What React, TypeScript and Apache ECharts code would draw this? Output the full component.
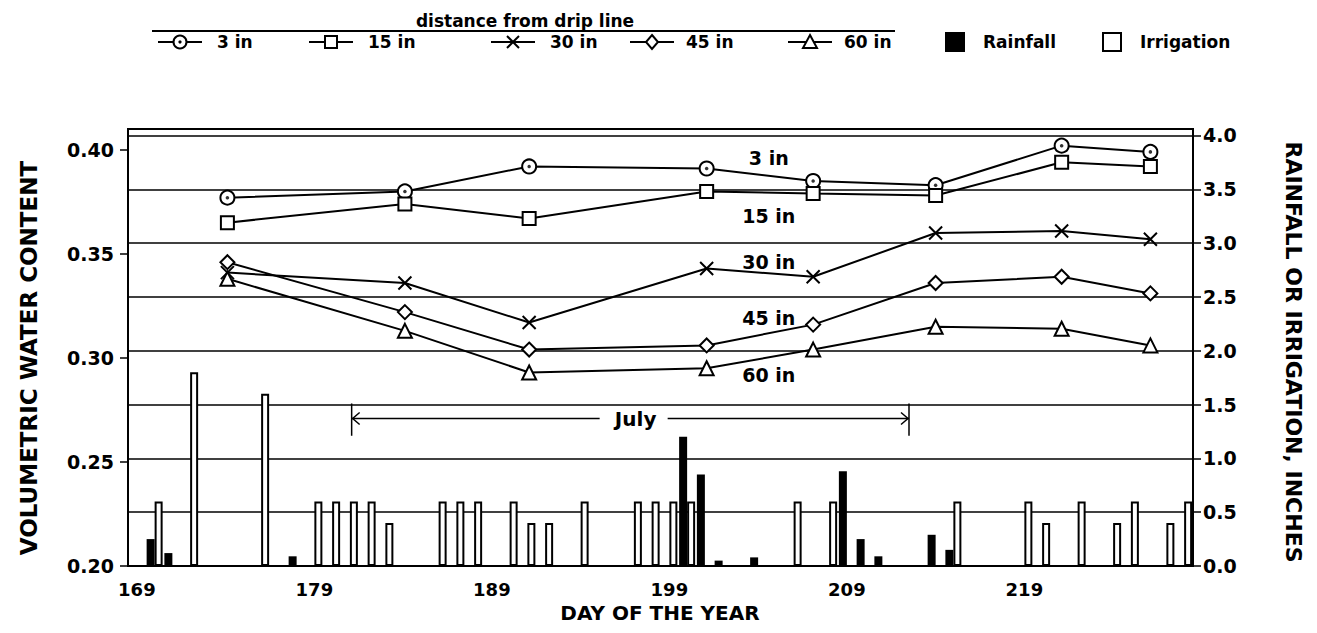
import React, { useEffect, useRef } from "react";
import * as echarts from "echarts";

// ---------- data ----------
const dayCategories = [
  "169","170","171","172","173","174","175","176","177","178",
  "179","180","181","182","183","184","185","186","187","188",
  "189","190","191","192","193","194","195","196","197","198",
  "199","200","201","202","203","204","205","206","207","208",
  "209","210","211","212","213","214","215","216","217","218",
  "219","220","221","222","223","224","225","226","227","228",
];
const xTickLabels = ["169", "179", "189", "199", "209", "219"];

const rainDays = [170, 171, 178, 200, 201, 202, 204, 209, 210, 211, 214, 215];
const rainInches = [0.25, 0.12, 0.09, 1.2, 0.85, 0.05, 0.08, 0.88, 0.25, 0.09, 0.29, 0.15];

const irrigationDays = [170, 172, 176, 179, 180, 181, 182, 183, 186, 187, 188, 190, 191, 192, 194, 197, 198, 199, 200, 206, 208, 215, 219, 220, 222, 224, 225, 227, 228];
const irrigationInches = [0.6, 1.8, 1.6, 0.6, 0.6, 0.6, 0.6, 0.4, 0.6, 0.6, 0.6, 0.6, 0.4, 0.4, 0.6, 0.6, 0.6, 0.6, 0.6, 0.6, 0.6, 0.6, 0.6, 0.4, 0.6, 0.4, 0.6, 0.4, 0.6];

const sampleDays = [174.1, 184.1, 191.1, 201.1, 207.1, 214.0, 221.1, 226.1];
const wc3in = [0.377, 0.380, 0.392, 0.391, 0.385, 0.383, 0.402, 0.399];
const wc15in = [0.365, 0.374, 0.367, 0.380, 0.379, 0.378, 0.394, 0.392];
const wc30in = [0.341, 0.336, 0.317, 0.343, 0.339, 0.360, 0.361, 0.357];
const wc45in = [0.346, 0.322, 0.304, 0.306, 0.316, 0.336, 0.339, 0.331];
const wc60in = [0.338, 0.313, 0.293, 0.295, 0.304, 0.315, 0.314, 0.306];

const depthNames = ["3 in", "15 in", "30 in", "45 in", "60 in"];
const depthLabelDay = 204.6;
const depthLabelValues = [0.396, 0.368, 0.346, 0.319, 0.292];

const julyStartDay = 181.1;
const julyEndDay = 212.5;
const julyTextDay = 197.1;
const julyLevel = 1.37;
const julyTickTop = 1.51;
const julyTickBottom = 1.21;

// ---------- helpers ----------
const FONT = '"DejaVu Sans", "Liberation Sans", Arial, sans-serif';
const BLACK = "#000";

function toDaily(daysList: number[], values: number[]) {
  return dayCategories.map((d) => {
    const i = daysList.indexOf(Number(d));
    return i >= 0 ? values[i] : null;
  });
}
function pairs(values: number[]) {
  return sampleDays.map((d, i) => [d, values[i]]);
}

function text(x: number, y: number, t: string, size: number, align = "center", rotation = 0) {
  return {
    type: "text",
    x,
    y,
    rotation,
    silent: true,
    z: 100,
    style: {
      text: t,
      font: `bold ${size}px ${FONT}`,
      fill: BLACK,
      textAlign: align,
      textVerticalAlign: "middle",
      align,
      verticalAlign: "middle",
    },
  };
}

function line(x1: number, y1: number, x2: number, y2: number, w = 2) {
  return {
    type: "line",
    silent: true,
    z: 100,
    shape: { x1, y1, x2, y2 },
    style: { stroke: BLACK, lineWidth: w },
  };
}

function marker(kind: string, cx: number, cy: number) {
  const st = { fill: "#fff", stroke: BLACK, lineWidth: 2 };
  const r = 6.5;
  if (kind === "circle")
    return [
      { type: "circle", silent: true, z: 101, shape: { cx, cy, r }, style: st },
      { type: "circle", silent: true, z: 102, shape: { cx, cy, r: 1.6 }, style: { fill: BLACK } },
    ];
  if (kind === "rect")
    return [{ type: "rect", silent: true, z: 101, shape: { x: cx - 6, y: cy - 6, width: 12, height: 12 }, style: st }];
  if (kind === "cross")
    return [line(cx - 6, cy - 6, cx + 6, cy + 6), line(cx - 6, cy + 6, cx + 6, cy - 6)];
  if (kind === "diamond")
    return [{ type: "polygon", silent: true, z: 101, shape: { points: [[cx, cy - 7], [cx + 6, cy], [cx, cy + 7], [cx - 6, cy]] }, style: st }];
  return [{ type: "polygon", silent: true, z: 101, shape: { points: [[cx, cy - 7], [cx + 7, cy + 6], [cx - 7, cy + 6]] }, style: st }];
}

const lineSeriesBase = {
  type: "line",
  xAxisIndex: 1,
  yAxisIndex: 0,
  lineStyle: { color: BLACK, width: 2 },
  itemStyle: { color: BLACK, borderColor: BLACK, borderWidth: 2 },
  z: 4,
};

export default function App() {
  const ref = useRef<HTMLDivElement>(null);

  useEffect(() => {
    const chart = echarts.init(ref.current!, null, { renderer: "svg" });
    const option: any = {
      animation: false,
      backgroundColor: "#fff",
      grid: {
        left: 128,
        right: 124,
        top: 129,
        bottom: 67,
        show: true,
        borderColor: BLACK,
        borderWidth: 2,
        backgroundColor: "transparent",
      },
      xAxis: [
        {
          type: "category",
          data: dayCategories,
          boundaryGap: true,
          axisLine: { lineStyle: { color: BLACK, width: 2 } },
          axisTick: { interval: 0, length: 7, lineStyle: { color: BLACK, width: 1.5 } },
          axisLabel: {
            interval: 0,
            margin: 14,
            color: BLACK,
            fontFamily: FONT,
            fontWeight: "bold",
            fontSize: 18,
            formatter: (v: string) => (xTickLabels.includes(v) ? v : ""),
          },
          splitLine: { show: false },
        },
        {
          type: "value",
          min: 168.5,
          max: 228.5,
          show: false,
          splitLine: { show: false },
        },
      ],
      yAxis: [
        {
          type: "value",
          position: "left",
          min: 0.2,
          max: 0.41,
          interval: 0.05,
          axisLine: { show: true, lineStyle: { color: BLACK, width: 2 } },
          axisTick: { show: true, length: 8, lineStyle: { color: BLACK, width: 1.5 } },
          axisLabel: {
            margin: 14,
            color: BLACK,
            fontFamily: FONT,
            fontWeight: "bold",
            fontSize: 19,
            showMaxLabel: false,
            formatter: (v: number) =>
              Math.abs(v * 20 - Math.round(v * 20)) < 1e-6 ? v.toFixed(2) : "",
          },
          splitLine: { show: false },
        },
        {
          type: "value",
          position: "right",
          min: 0,
          max: 4.06,
          interval: 0.5,
          axisLine: { show: true, lineStyle: { color: BLACK, width: 2 } },
          axisTick: { show: true, length: 8, lineStyle: { color: BLACK, width: 1.5 } },
          axisLabel: {
            margin: 10,
            color: BLACK,
            fontFamily: FONT,
            fontWeight: "bold",
            fontSize: 19,
            showMaxLabel: false,
            formatter: (v: number) =>
              Math.abs(v * 2 - Math.round(v * 2)) < 1e-6 ? v.toFixed(1) : "",
          },
          splitLine: { show: true, lineStyle: { color: BLACK, width: 1.5 } },
        },
      ],
      series: [
        {
          name: "Rainfall",
          type: "bar",
          xAxisIndex: 0,
          yAxisIndex: 1,
          data: toDaily(rainDays, rainInches),
          barWidth: 8,
          barGap: "0%",
          itemStyle: { color: BLACK },
          z: 2,
        },
        {
          name: "Irrigation",
          type: "bar",
          xAxisIndex: 0,
          yAxisIndex: 1,
          data: toDaily(irrigationDays, irrigationInches),
          barWidth: 8,
          barGap: "0%",
          itemStyle: { color: "#fff", borderColor: BLACK, borderWidth: 2 },
          z: 2,
        },
        { ...lineSeriesBase, name: "3 in", data: pairs(wc3in), symbol: "emptyCircle", symbolSize: 14 },
        {
          name: "3 in dot",
          type: "scatter",
          xAxisIndex: 1,
          yAxisIndex: 0,
          data: pairs(wc3in),
          symbol: "circle",
          symbolSize: 3.5,
          itemStyle: { color: BLACK },
          z: 6,
        },
        { ...lineSeriesBase, name: "15 in", data: pairs(wc15in), symbol: "emptyRect", symbolSize: 13 },
        {
          ...lineSeriesBase,
          name: "30 in",
          data: pairs(wc30in),
          symbol: "path://M0,0L10,10M0,10L10,0",
          symbolSize: 13,
        },
        { ...lineSeriesBase, name: "45 in", data: pairs(wc45in), symbol: "emptyDiamond", symbolSize: 14 },
        { ...lineSeriesBase, name: "60 in", data: pairs(wc60in), symbol: "emptyTriangle", symbolSize: 14 },
      ],
    };
    chart.setOption(option);

    const gx = (d: number) => chart.convertToPixel({ xAxisIndex: 1 }, d) as number;
    const gyL = (v: number) => chart.convertToPixel({ yAxisIndex: 0 }, v) as number;
    const gyR = (v: number) => chart.convertToPixel({ yAxisIndex: 1 }, v) as number;

    const g: any[] = [];
    // series labels inside the plot
    depthNames.forEach((n, i) => {
      g.push(text(gx(depthLabelDay), gyL(depthLabelValues[i]), n, 19));
    });
    // July annotation
    const jx1 = gx(julyStartDay);
    const jx2 = gx(julyEndDay);
    const jxt = gx(julyTextDay);
    const jy = gyR(julyLevel);
    const jt = gyR(julyTickTop);
    const jb = gyR(julyTickBottom);
    g.push(line(jx1, jt, jx1, jb, 1.5));
    g.push(line(jx2, jt, jx2, jb, 1.5));
    g.push(line(jx1, jy, jxt - 36, jy, 1.5));
    g.push(line(jxt + 32, jy, jx2, jy, 1.5));
    g.push({ type: "polyline", silent: true, z: 100, shape: { points: [[jx1 + 8, jy - 6], [jx1 + 1, jy], [jx1 + 8, jy + 6]] }, style: { stroke: BLACK, lineWidth: 1.5, fill: null } });
    g.push({ type: "polyline", silent: true, z: 100, shape: { points: [[jx2 - 8, jy - 6], [jx2 - 1, jy], [jx2 - 8, jy + 6]] }, style: { stroke: BLACK, lineWidth: 1.5, fill: null } });
    g.push(text(jxt, jy, "July", 20));

    // axis titles
    g.push(text(29, 358, "VOLUMETRIC WATER CONTENT", 23, "center", Math.PI / 2));
    g.push(text(1293, 352, "RAINFALL OR IRRIGATION, INCHES", 22, "center", -Math.PI / 2));
    g.push(text(660, 613, "DAY OF THE YEAR", 20));

    // legend
    const ly = 42;
    g.push(text(525, 21, "distance from drip line", 17));
    g.push(line(152, 31, 895, 31, 2));
    const legendKinds = ["circle", "rect", "cross", "diamond", "triangle"];
    const legendCenters = [180, 331, 513, 652, 810];
    const legendTextX = [217, 368, 550, 686, 844];
    legendKinds.forEach((k, i) => {
      const c = legendCenters[i];
      g.push(line(c - 22, ly, c + 22, ly, 2));
      marker(k, c, ly).forEach((m) => g.push(m));
      g.push(text(legendTextX[i], ly, depthNames[i], 17, "left"));
    });
    g.push({ type: "rect", silent: true, z: 100, shape: { x: 945, y: ly - 10, width: 20, height: 20 }, style: { fill: BLACK } });
    g.push(text(983, ly, "Rainfall", 17, "left"));
    g.push({ type: "rect", silent: true, z: 100, shape: { x: 1103, y: ly - 9, width: 18, height: 18 }, style: { fill: "#fff", stroke: BLACK, lineWidth: 2 } });
    g.push(text(1140, ly, "Irrigation", 17, "left"));

    chart.setOption({ graphic: g });

    return () => chart.dispose();
  }, []);

  return (
    <div
      ref={ref}
      style={{ position: "absolute", left: 0, top: 0, width: 1317, height: 633, background: "#fff" }}
    />
  );
}
